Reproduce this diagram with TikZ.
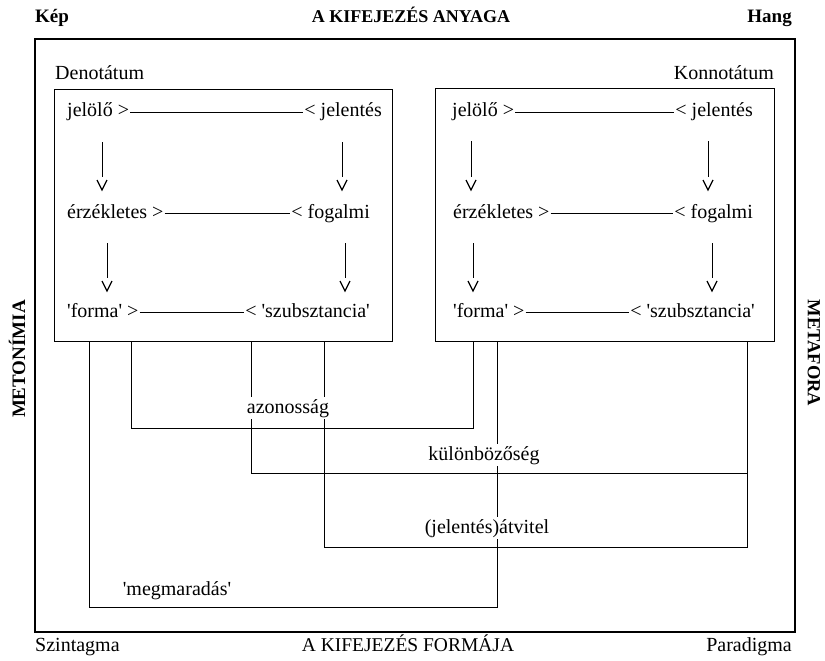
\documentclass[tikz,border=0pt]{standalone}
\usepackage{fontspec}
\setmainfont{Liberation Serif}
\usetikzlibrary{calc}
\newcommand{\sq}{\textquotesingle}
\begin{document}
\begin{tikzpicture}[x=1pt,y=-1pt,
  txt/.style={inner sep=0pt, font=\fontsize{20}{22}\selectfont},
  ttl/.style={inner sep=0pt, font=\fontsize{19}{21}\selectfont\bfseries},
  lbl/.style={txt, fill=white, inner sep=2pt},
  outerbox/.style={draw, line width=1.8pt, inner sep=0pt},
  innerbox/.style={draw, line width=1.4pt, inner sep=0pt},
  conn/.style={line width=0.9pt},
  rowline/.style={line width=1pt},
  chev/.style={line width=1.2pt},
  chevron/.pic={\draw[chev] (-5,-10) -- (0,0) -- (5,-10);}
]
\useasboundingbox (0,0) rectangle (825,661);

% frames
\node[outerbox, minimum width=760pt, minimum height=593pt, anchor=north west] (outer) at (34,38) {};
\node[innerbox, minimum width=338pt, minimum height=252pt, anchor=north west] (lbox) at (54,89) {};
\node[innerbox, minimum width=339pt, minimum height=253pt, anchor=north west] (rbox) at (435,88) {};

% corner and side titles
\node[ttl, anchor=base west] (kep) at (35,23) {Kép};
\node[ttl, anchor=base, font=\fontsize{18}{20}\selectfont\bfseries] (anyag) at (411,23) {A KIFEJEZÉS ANYAGA};
\node[ttl, anchor=base east] (hang) at (792,23) {Hang};
\node[txt, anchor=base west] (szint) at (35,651) {Szintagma};
\node[txt, anchor=base, font=\fontsize{19.5}{21}\selectfont] (forma) at (408,651) {A KIFEJEZÉS FORMÁJA};
\node[txt, anchor=base east] (parad) at (792,651) {Paradigma};
\node[ttl, rotate=90] (meton) at (17,359) {METONÍMIA};
\node[ttl, rotate=-90, font=\fontsize{18.5}{20}\selectfont\bfseries] (metaf) at (814,353) {METAFORA};
\node[txt, anchor=base west] (denot) at (55,80) {Denotátum};
\node[txt, anchor=base east] (konnot) at (774,80) {Konnotátum};

% left box rows
\node[txt, anchor=base west] (lj) at (67,117) {jelölő >};
\node[txt, anchor=base east] (lje) at (382,117) {< jelentés};
\node[txt, anchor=base west] (le) at (67,218) {érzékletes >};
\node[txt, anchor=base east] (lf) at (370,218) {< fogalmi};
\node[txt, anchor=base west] (lfo) at (67,317) {\sq forma\sq\ >};
\node[txt, anchor=base east] (lsz) at (370,317) {< \sq szubsztancia\sq};

% right box rows
\node[txt, anchor=base west] (rj) at (452,117) {jelölő >};
\node[txt, anchor=base east] (rje) at (753,117) {< jelentés};
\node[txt, anchor=base west] (re) at (453,218) {érzékletes >};
\node[txt, anchor=base east] (rf) at (753,218) {< fogalmi};
\node[txt, anchor=base west] (rfo) at (453,317) {\sq forma\sq\ >};
\node[txt, anchor=base east] (rsz) at (755,317) {< \sq szubsztancia\sq};

% horizontal row lines
\foreach \a/\b in {lj/lje, le/lf, lfo/lsz, rj/rje, re/rf, rfo/rsz}
  \draw[rowline] ($(\a.base east)+(1,-5)$) -- ($(\b.base west)+(-1,-5)$);

% vertical arrows (line, gap, chevron)
\foreach \x/\ys/\ye in {102/142/177, 342/142/177, 107/243/278, 345/243/278,
                         471/141/177, 708/141/177, 473/243/278, 712/243/278}{
  \coordinate (as) at (\x,\ys);
  \coordinate (ae) at (\x,\ye);
  \coordinate (at) at (\x,\ye+13);
  \draw[conn] (as) -- (ae);
  \pic at (at) {chevron};
}

% bracket anchor points on the box bottoms
\coordinate (azL) at (131,0 |- lbox.south);
\coordinate (azR) at (473,0 |- rbox.south);
\coordinate (kuL) at (251,0 |- lbox.south);
\coordinate (atL) at (324,0 |- lbox.south);
\coordinate (atR) at (747,0 |- rbox.south);
\coordinate (meL) at (89,0 |- lbox.south);
\coordinate (meR) at (497,0 |- rbox.south);
\coordinate (kuJ) at (747,473);

% brackets
\draw[conn] (azL) |- (473,428) -- (azR);
\draw[conn] (kuL) |- (kuJ);
\draw[conn] (atL) |- (747,547) -- (atR);
\draw[conn] (meL) |- (497,607) -- (meR);

% bracket labels
\node[lbl, anchor=base] (az) at (288,413) {azonosság};
\node[lbl, anchor=base] (ku) at (484,460) {különbözőség};
\node[lbl, anchor=base] (at) at (487,533) {(jelentés)átvitel};
\node[lbl, anchor=base] (me) at (177,595) {\sq megmaradás\sq};
\end{tikzpicture}
\end{document}
